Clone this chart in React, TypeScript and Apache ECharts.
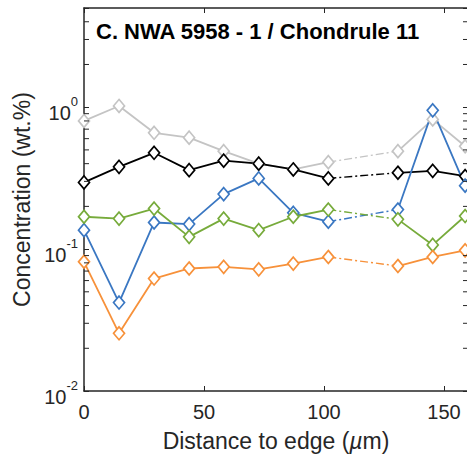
import React, { useEffect, useRef } from "react";
import * as echarts from "echarts";

const xs = [0, 14.6, 29.2, 43.8, 58.2, 72.8, 87.2, 101.8, 130.8, 145.3, 158.8];
const gapAfter = 7; // dash-dot between index 7 and 8
const grayVals = [0.8, 1.02, 0.66, 0.61, 0.49, 0.4, 0.364, 0.41, 0.49, 0.82, 0.53];
const blackVals = [0.295, 0.38, 0.477, 0.36, 0.42, 0.4, 0.364, 0.315, 0.345, 0.356, 0.327];
const blueVals = [0.136, 0.042, 0.154, 0.15, 0.244, 0.315, 0.18, 0.156, 0.19, 0.95, 0.28];
const greenVals = [0.169, 0.164, 0.193, 0.122, 0.164, 0.136, 0.169, 0.19, 0.162, 0.107, 0.171];
const orangeVals = [0.0814, 0.0255, 0.062, 0.073, 0.075, 0.072, 0.079, 0.088, 0.076, 0.088, 0.098];

const seriesDefs = [
  { name: "gray", color: "#c4c4c4", values: grayVals },
  { name: "black", color: "#000000", values: blackVals },
  { name: "blue", color: "#3a77c2", values: blueVals },
  { name: "green", color: "#77ab3b", values: greenVals },
  { name: "orange", color: "#f7913a", values: orangeVals },
];

const minorTickVals = [0.02, 0.03, 0.04, 0.05, 0.06, 0.07, 0.08, 0.09, 0.2, 0.3, 0.4, 0.5, 0.6, 0.7, 0.8, 0.9, 2, 3, 4];

const xMin = 0;
const xMax = 160;
const yMin = 0.01;
const yMax = 5;
const titleText = "C. NWA 5958 - 1 / Chondrule 11";
const xName = "Distance to edge ({i|µ}m)";
const yName = "Concentration (wt.%)";

const FONT = "'Liberation Sans', Arial, Helvetica, sans-serif";
const AX = "#262626";

export default function App() {
  const ref = useRef<HTMLDivElement>(null);
  useEffect(() => {
    if (!ref.current) return;
    const chart = echarts.init(ref.current, undefined, { renderer: "svg" });
    const series: any[] = [];
    seriesDefs.forEach((s) => {
      const solid: any[] = [];
      xs.forEach((x, i) => {
        solid.push([x, s.values[i]]);
        if (i === gapAfter) solid.push(["-", "-"]);
      });
      series.push({
        type: "line",
        name: s.name,
        data: solid,
        connectNulls: false,
        symbol: "diamond",
        symbolSize: [11, 13],
        showSymbol: true,
        lineStyle: { color: s.color, width: 1.8 },
        itemStyle: { color: "#ffffff", borderColor: s.color, borderWidth: 1.7 },
        z: 3,
      });
      series.push({
        type: "line",
        name: s.name + "-gap",
        data: [
          [xs[gapAfter], s.values[gapAfter]],
          [xs[gapAfter + 1], s.values[gapAfter + 1]],
        ],
        symbol: "none",
        lineStyle: { color: s.color, width: 1.4, type: [8, 3, 2, 3] },
        z: 2,
      });
    });
    series.push({
      type: "custom",
      name: "minorTicks",
      coordinateSystem: "cartesian2d",
      data: minorTickVals.map((v) => [xMin, v]),
      clip: false,
      silent: true,
      z: 5,
      renderItem: (params: any, api: any) => {
        const v = api.value(1);
        const l = api.coord([xMin, v]);
        const r = api.coord([xMax, v]);
        return {
          type: "group",
          children: [
            { type: "line", shape: { x1: l[0], y1: l[1], x2: l[0] + 5, y2: l[1] }, style: { stroke: AX, lineWidth: 1 } },
            { type: "line", shape: { x1: r[0], y1: r[1], x2: r[0] - 5, y2: r[1] }, style: { stroke: AX, lineWidth: 1 } },
          ],
        };
      },
    });

    const yLabelFmt = (v: number) => {
      const lg = Math.log10(v);
      const e = Math.round(lg);
      if (Math.abs(lg - e) > 1e-6) return "";
      return `{b|10}{s|${e}}`;
    };

    chart.setOption({
      animation: false,
      backgroundColor: "#ffffff",
      title: {
        text: titleText,
        left: 91,
        top: 15,
        textStyle: { fontFamily: FONT, fontSize: 22, fontWeight: "bold", color: "#000" },
      },
      grid: { left: 84, top: 8, right: -1, bottom: 71, containLabel: false, outerBoundsMode: "none" },
      xAxis: [
        {
          type: "value",
          min: xMin,
          max: xMax,
          interval: 50,
          position: "bottom",
          name: xName,
          nameLocation: "middle",
          nameGap: 38,
          nameTextStyle: {
            fontFamily: FONT,
            fontSize: 23,
            color: AX,
            rich: { i: { fontStyle: "italic", fontFamily: FONT, fontSize: 23, color: AX } },
          },
          axisLine: { show: true, onZero: false, lineStyle: { color: AX, width: 1.5 } },
          axisTick: { show: true, inside: true, length: 5, lineStyle: { color: AX, width: 1 } },
          axisLabel: { fontFamily: FONT, fontSize: 20, color: AX, margin: 11 },
          splitLine: { show: false },
        },
        {
          type: "value",
          min: xMin,
          max: xMax,
          interval: 50,
          position: "top",
          axisLine: { show: true, onZero: false, lineStyle: { color: AX, width: 1.5 } },
          axisTick: { show: true, inside: true, length: 5, lineStyle: { color: AX, width: 1 } },
          axisLabel: { show: false },
          splitLine: { show: false },
        },
      ],
      yAxis: [
        {
          type: "log",
          logBase: 10,
          min: yMin,
          max: yMax,
          position: "left",
          name: yName,
          nameLocation: "middle",
          nameGap: 50,
          nameTextStyle: { fontFamily: FONT, fontSize: 23, color: AX },
          axisLine: { show: true, onZero: false, lineStyle: { color: AX, width: 1.5 } },
          axisTick: { show: true, inside: true, length: 5, lineStyle: { color: AX, width: 1 } },
          axisLabel: {
            formatter: yLabelFmt,
            margin: 6,
            padding: [4, 0, 0, 0],
            rich: {
              b: { fontFamily: FONT, fontSize: 20, color: AX, lineHeight: 28, verticalAlign: "bottom" },
              s: { fontFamily: FONT, fontSize: 13, color: AX, lineHeight: 13, verticalAlign: "top" },
            },
          },
          splitLine: { show: false },
        },
        {
          type: "log",
          logBase: 10,
          min: yMin,
          max: yMax,
          position: "right",
          axisLine: { show: true, onZero: false, lineStyle: { color: AX, width: 1.5 } },
          axisTick: { show: true, inside: true, length: 5, lineStyle: { color: AX, width: 1 } },
          axisLabel: { show: false },
          splitLine: { show: false },
        },
      ],
      series,
    });
    return () => chart.dispose();
  }, []);
  return (
    <div
      ref={ref}
      style={{ position: "fixed", left: 0, top: 0, width: 467, height: 462, background: "#fff" }}
    />
  );
}
